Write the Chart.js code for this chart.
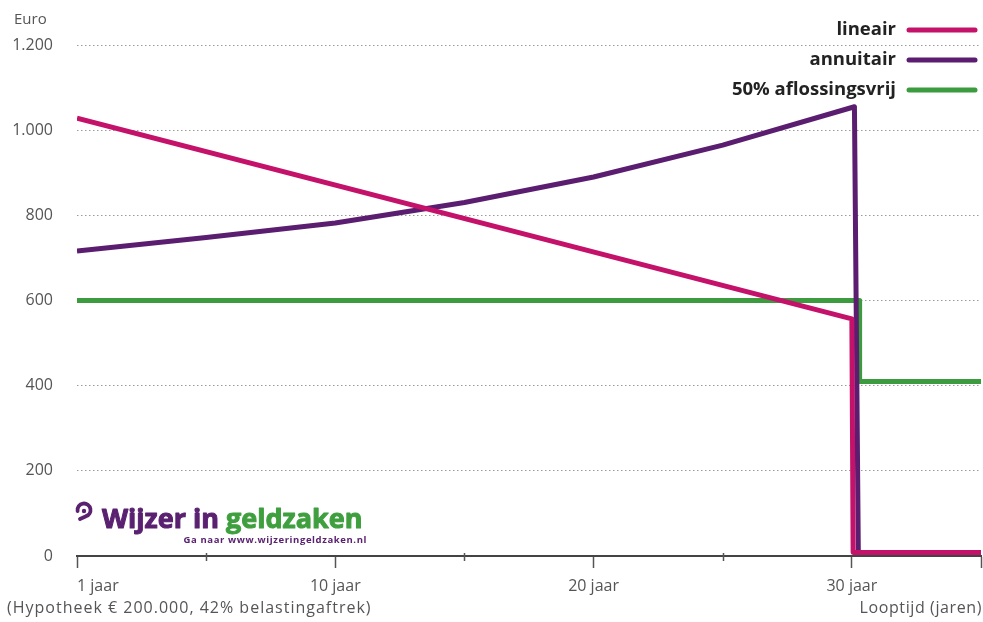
<!DOCTYPE html>
<html>
<head>
<meta charset="utf-8">
<script src="https://cdn.jsdelivr.net/npm/chart.js@4.4.1/dist/chart.umd.min.js"></script>
<style>
  html, body { margin: 0; padding: 0; background: #ffffff; }
  #wrap { width: 983px; height: 622px; }
</style>
</head>
<body>
<div id="wrap"><canvas id="chart" width="983" height="622"></canvas></div>
<script>
// Netto maandlasten per hypotheekvorm over de looptijd
const seriesNames = ['lineair', 'annuitair', '50% aflossingsvrij'];
const seriesColors = ['#c4126b', '#5a1d70', '#3b9b3e'];

// looptijd-positie (0 = 1e jaar) en bedrag in euro
const lineairX = [0, 30, 30.05, 35];
const lineairY = [1028, 557, 8, 8];

const annuitairX = [0, 5, 10, 15, 20, 25, 30.1, 30.25, 35];
const annuitairY = [716, 748, 782, 830, 890, 965, 1055, 8, 8];

const aflossingsvrijX = [0, 30.3, 30.3, 35];
const aflossingsvrijY = [600, 600, 410, 410];

// assen
const xTickValues = [0, 10, 20, 30, 35];
const xTickLabels = ['1 jaar', '10 jaar', '20 jaar', '30 jaar', ''];
const xMinorTicks = [5, 15, 25];
const yTickValues = [0, 200, 400, 600, 800, 1000, 1200];

const toPoints = (xs, ys) => xs.map((x, i) => ({ x: x, y: ys[i] }));
const fmtEuro = v => String(v).replace(/\B(?=(\d{3})+(?!\d))/g, '.');

const labelFont = { family: '"Open Sans", "DejaVu Sans", sans-serif', size: 16 };

const decorations = {
  id: 'decorations',
  afterDraw(chart) {
    const ctx = chart.ctx;
    const xs = chart.scales.x;
    const base = chart.chartArea.bottom;
    ctx.save();

    // kleine tussenstreepjes op de x-as
    ctx.strokeStyle = '#555';
    ctx.lineWidth = 1.5;
    xMinorTicks.forEach(v => {
      const px = Math.round(xs.getPixelForValue(v)) + 0.5;
      ctx.beginPath();
      ctx.moveTo(px, base - 3);
      ctx.lineTo(px, base + 5);
      ctx.stroke();
    });

    // aslabels
    ctx.fillStyle = '#555';
    ctx.textBaseline = 'middle';
    ctx.textAlign = 'left';
    ctx.font = '15px "Open Sans", sans-serif';
    ctx.fillText('Euro', 14, 20);
    ctx.font = '16px "Open Sans", sans-serif';
    ctx.letterSpacing = '1px';
    ctx.fillText('(Hypotheek \u20AC 200.000, 42% belastingaftrek)', 7, 608);
    ctx.textAlign = 'right';
    ctx.letterSpacing = '0.6px';
    ctx.fillText('Looptijd (jaren)', 982, 608);
    ctx.letterSpacing = '0px';

    // legenda
    ctx.font = 'bold 18.5px "Open Sans", sans-serif';
    ctx.lineCap = 'round';
    ctx.lineWidth = 5;
    [30, 60, 90].forEach((y, i) => {
      ctx.fillStyle = '#222';
      ctx.textAlign = 'right';
      ctx.fillText(seriesNames[i], 896, y);
      ctx.strokeStyle = seriesColors[i];
      ctx.beginPath();
      ctx.moveTo(909, y);
      ctx.lineTo(975, y);
      ctx.stroke();
    });

    // logo
    ctx.strokeStyle = '#5a2170';
    ctx.fillStyle = '#5a2170';
    ctx.lineWidth = 3.8;
    ctx.lineCap = 'round';
    ctx.beginPath();
    ctx.arc(84, 510, 6.5, Math.PI * 0.95, Math.PI * 0.4, false);
    ctx.lineTo(80, 519);
    ctx.stroke();
    ctx.beginPath();
    ctx.arc(84, 511, 2.2, 0, Math.PI * 2);
    ctx.fill();

    ctx.textAlign = 'left';
    ctx.textBaseline = 'alphabetic';
    ctx.font = 'bold 27px "Open Sans", sans-serif';
    ctx.lineWidth = 1;
    ctx.lineJoin = 'round';
    const part1 = 'Wijzer in ';
    ctx.fillStyle = '#5a2170';
    ctx.strokeStyle = '#5a2170';
    ctx.fillText(part1, 102, 528);
    ctx.strokeText(part1, 102, 528);
    const w1 = ctx.measureText(part1).width;
    ctx.fillStyle = '#3f9f3f';
    ctx.strokeStyle = '#3f9f3f';
    ctx.fillText('geldzaken', 102 + w1, 528);
    ctx.strokeText('geldzaken', 102 + w1, 528);

    ctx.font = 'bold 9.5px "Open Sans", sans-serif';
    ctx.letterSpacing = '0.6px';
    ctx.fillStyle = '#5a2170';
    ctx.textAlign = 'right';
    ctx.fillText('Ga naar www.wijzeringeldzaken.nl', 367, 543);
    ctx.letterSpacing = '0px';

    ctx.restore();
  }
};

new Chart(document.getElementById('chart'), {
  type: 'line',
  data: {
    datasets: [
      { label: seriesNames[0], data: toPoints(lineairX, lineairY), borderColor: seriesColors[0] },
      { label: seriesNames[1], data: toPoints(annuitairX, annuitairY), borderColor: seriesColors[1] },
      { label: seriesNames[2], data: toPoints(aflossingsvrijX, aflossingsvrijY), borderColor: seriesColors[2] }
    ].map(d => Object.assign(d, {
      borderWidth: 5,
      pointRadius: 0,
      tension: 0,
      fill: false,
      borderJoinStyle: 'round',
      borderCapStyle: 'butt'
    }))
  },
  options: {
    responsive: false,
    animation: false,
    layout: { padding: { left: 0, right: 2, top: 45, bottom: 22 } },
    plugins: { legend: { display: false }, tooltip: { enabled: false } },
    scales: {
      x: {
        type: 'linear',
        min: 0,
        max: 35,
        afterBuildTicks: s => { s.ticks = xTickValues.map(v => ({ value: v })); },
        afterFit: s => { s.height = 44; },
        ticks: {
          autoSkip: false,
          maxRotation: 0,
          align: 'inner',
          color: '#555',
          font: Object.assign({}, labelFont, { lineHeight: 2 }),
          padding: 2,
          callback: (v) => xTickLabels[xTickValues.indexOf(v)]
        },
        grid: {
          drawOnChartArea: false,
          drawTicks: true,
          tickLength: 12,
          tickWidth: 1.5,
          tickColor: '#555'
        },
        border: { display: true, color: '#444', width: 2 }
      },
      y: {
        type: 'linear',
        min: 0,
        max: 1200,
        afterBuildTicks: s => { s.ticks = yTickValues.map(v => ({ value: v })); },
        afterFit: s => { s.width = 77; },
        ticks: {
          color: '#555',
          font: labelFont,
          padding: 24,
          callback: v => fmtEuro(v)
        },
        grid: {
          drawTicks: false,
          color: c => (c.tick && c.tick.value === 0) ? 'rgba(0,0,0,0)' : '#9a9a9a',
          lineWidth: 1
        },
        border: { display: false, dash: [1.5, 2.5] }
      }
    }
  },
  plugins: [decorations]
});
</script>
</body>
</html>
